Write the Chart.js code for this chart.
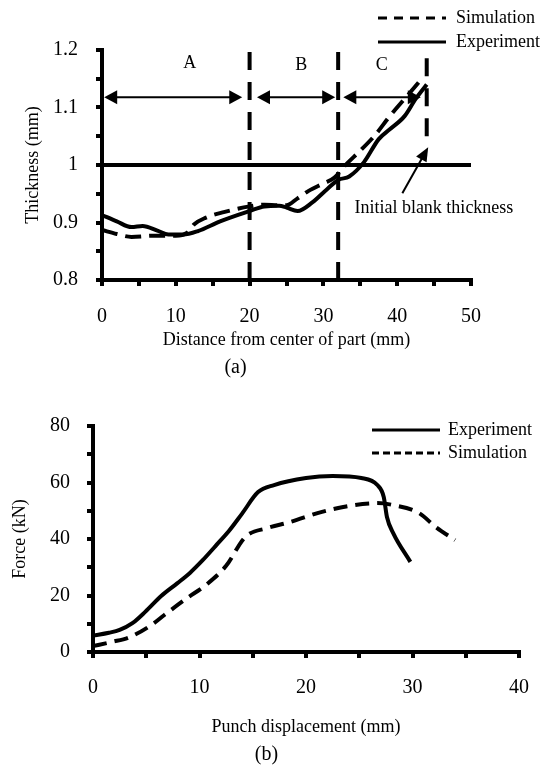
<!DOCTYPE html>
<html><head><meta charset="utf-8">
<script src="https://cdn.jsdelivr.net/npm/chart.js@4/dist/chart.umd.min.js"></script>
<style>
html,body{margin:0;padding:0;background:#fff;}
#wrap{position:relative;width:547px;height:769px;overflow:hidden;background:#fff;}
canvas{position:absolute;left:0;}
#c1{top:0;} #c2{top:392px;}
</style></head><body>
<div id="wrap">
<canvas id="c1" width="547" height="392"></canvas>
<canvas id="c2" width="547" height="377"></canvas>
</div>
<script>
// ================= DATA =================
// (a) Thickness distribution
const expDistance  = [0, 2, 4, 5.5, 7.5, 9, 11, 13, 16, 20, 22, 24, 25, 26.5, 28.5, 30.5, 32, 33.5, 35.5, 37.5, 39, 41, 42.5, 44];
const expThickness = [0.913, 0.902, 0.892, 0.894, 0.886, 0.879, 0.879, 0.885, 0.902, 0.920, 0.928, 0.929, 0.926, 0.920, 0.935, 0.958, 0.974, 0.980, 1.005, 1.045, 1.062, 1.085, 1.115, 1.140];
const simDistance  = [0, 2, 4, 7, 10, 11.5, 12.5, 14, 16.5, 20, 22, 24, 25, 26.5, 28, 30, 31.5, 33, 35, 37, 39, 41, 43];
const simThickness = [0.887, 0.880, 0.875, 0.877, 0.877, 0.882, 0.897, 0.908, 0.918, 0.928, 0.931, 0.930, 0.930, 0.942, 0.955, 0.968, 0.978, 1.000, 1.025, 1.052, 1.085, 1.115, 1.145];
const zoneBoundaryX = [20, 32, 44];
const zoneLabels = ['A', 'B', 'C'];
const blankThickness = 1.0;

// (b) Force vs punch displacement
const expDisplacement = [0, 1.5, 2.5, 3.7, 4.9, 6.4, 7.9, 9.1, 10.3, 11.5, 12.8, 14, 15.5, 17, 20, 22.5, 25.2, 26.7, 27.3, 27.6, 28.2, 29.8];
const expForce        = [5.8, 6.8, 7.8, 10.2, 14.2, 19.8, 24.3, 28, 32.5, 37.5, 43, 49, 56.6, 59.1, 61.6, 62.3, 61.6, 59.1, 54.9, 47.8, 42, 31.9];
const simDisplacement = [0, 1.8, 3.4, 5.5, 6.7, 8.8, 10.6, 12.5, 14.3, 16.4, 18.5, 21.5, 24.5, 26.7, 28.2, 30.6, 32.2, 34];
const simForce        = [2.1, 3.6, 5.2, 9.6, 13.1, 19, 23.7, 30.5, 40.7, 43.9, 46, 49.6, 52, 52.7, 52, 49.2, 44.2, 39.6];

// ================= HELPERS =================
const F = '"Liberation Serif", "Times New Roman", serif';
const pts = (xs, ys) => xs.map((x, i) => ({x: x, y: ys[i]}));

// annotation placement (data units)
const zoneArrowLevel = 1.118;
const zoneSpans = [[0.3, 19.0], [21.0, 31.6], [32.7, 43.2]];
const zoneLabelPos = [[11.9, 1.177], [27, 1.174], [37.9, 1.174]];
const boundaryExtent = [[0.8, 1.2], [0.8, 1.2], [1.05, 1.19]];
const blankNote = {text: 'Initial blank thickness', x: 34.2, y: 0.925, tail: [40.7, 0.951], tip: [44.2, 1.031]};

function head(ctx, tx, ty, ang, len, half) {
  const c = Math.cos(ang), s = Math.sin(ang);
  ctx.beginPath();
  ctx.moveTo(tx, ty);
  ctx.lineTo(tx - len * c + half * s, ty - len * s - half * c);
  ctx.lineTo(tx - len * c - half * s, ty - len * s + half * c);
  ctx.closePath();
  ctx.fill();
}
function arrow(ctx, x1, y1, x2, y2, len, half, both) {
  const a = Math.atan2(y2 - y1, x2 - x1), c = Math.cos(a), s = Math.sin(a);
  ctx.beginPath();
  ctx.moveTo(both ? x1 + len * 0.8 * c : x1, both ? y1 + len * 0.8 * s : y1);
  ctx.lineTo(x2 - len * 0.8 * c, y2 - len * 0.8 * s);
  ctx.stroke();
  head(ctx, x2, y2, a, len, half);
  if (both) head(ctx, x1, y1, a + Math.PI, len, half);
}

function legendPlugin(id, items, x0, x1, textX) {
  return {
    id: id,
    afterDraw(chart) {
      const ctx = chart.ctx;
      ctx.save();
      ctx.strokeStyle = '#000'; ctx.fillStyle = '#000';
      ctx.font = '18px ' + F; ctx.textBaseline = 'middle'; ctx.textAlign = 'left';
      items.forEach(it => {
        const ds = chart.data.datasets[it.index];
        ctx.lineWidth = 3;
        ctx.setLineDash(it.dash);
        ctx.beginPath(); ctx.moveTo(x0, it.y); ctx.lineTo(x1, it.y); ctx.stroke();
        ctx.setLineDash([]);
        ctx.fillText(ds.label, textX, it.y);
      });
      ctx.restore();
    }
  };
}

const annotPlugin = {
  id: 'annotA',
  afterDatasetsDraw(chart) {
    const {ctx, scales: {x, y}} = chart;
    ctx.save();
    ctx.strokeStyle = '#000'; ctx.fillStyle = '#000'; ctx.lineWidth = 2;
    const py = y.getPixelForValue(zoneArrowLevel);
    zoneSpans.forEach(sp => {
      arrow(ctx, x.getPixelForValue(sp[0]), py, x.getPixelForValue(sp[1]), py, 13, 7, true);
    });
    ctx.font = '18px ' + F; ctx.textAlign = 'center'; ctx.textBaseline = 'middle';
    zoneLabels.forEach((lab, i) => {
      ctx.fillText(lab, x.getPixelForValue(zoneLabelPos[i][0]), y.getPixelForValue(zoneLabelPos[i][1]));
    });
    ctx.textAlign = 'left';
    ctx.fillText(blankNote.text, x.getPixelForValue(blankNote.x), y.getPixelForValue(blankNote.y));
    arrow(ctx, x.getPixelForValue(blankNote.tail[0]), y.getPixelForValue(blankNote.tail[1]),
               x.getPixelForValue(blankNote.tip[0]), y.getPixelForValue(blankNote.tip[1]), 14, 6, false);
    ctx.restore();
  }
};

const gridOpts = {display: true, drawOnChartArea: false, drawTicks: true, tickLength: 6, color: '#000', lineWidth: 4};
const borderOpts = {display: true, color: '#000', width: 4};

// ================= CHART (a) =================
const dsA = [
  {label: 'Simulation', data: pts(simDistance, simThickness), borderColor: '#000', borderWidth: 4, borderDash: [16, 8], pointRadius: 0, cubicInterpolationMode: 'monotone', fill: false},
  {label: 'Experiment', data: pts(expDistance, expThickness), borderColor: '#000', borderWidth: 4, pointRadius: 0, cubicInterpolationMode: 'monotone', fill: false},
  {label: 'Initial blank thickness', data: [{x: 0, y: blankThickness}, {x: 50, y: blankThickness}], borderColor: '#000', borderWidth: 4, pointRadius: 0, fill: false}
];
zoneBoundaryX.forEach((bx, i) => {
  dsA.push({label: 'Zone boundary ' + (i + 1), data: [{x: bx, y: boundaryExtent[i][0]}, {x: bx, y: boundaryExtent[i][1]}],
    borderColor: '#000', borderWidth: 4, borderDash: [18, 12], borderCapStyle: 'butt', pointRadius: 0, fill: false});
});

new Chart(document.getElementById('c1'), {
  type: 'line',
  data: {datasets: dsA},
  options: {
    responsive: false, animation: false, devicePixelRatio: 1,
    layout: {padding: {top: 50, right: 76, left: 0, bottom: 0}},
    plugins: {
      legend: {display: false}, tooltip: {enabled: false},
      title: {display: true, position: 'bottom', text: '(a)', color: '#000', font: {family: F, size: 20, weight: 'normal'}, padding: {top: 0, bottom: 12}}
    },
    scales: {
      x: {
        type: 'linear', min: 0, max: 50,
        afterFit(s) { s.height = 76; },
        ticks: {stepSize: 5, autoSkip: false, maxRotation: 0, minRotation: 0, padding: 19, color: '#000', font: {family: F, size: 20},
          callback: v => (Math.round(v) % 10 === 0 ? String(Math.round(v)) : '')},
        grid: gridOpts, border: borderOpts,
        title: {display: true, text: 'Distance from center of part (mm)', color: '#000', font: {family: F, size: 18}, padding: {top: 0, bottom: 5}}
      },
      y: {
        type: 'linear', min: 0.8, max: 1.2,
        afterFit(s) { s.width = 102; },
        ticks: {stepSize: 0.05, autoSkip: false, padding: 18, color: '#000', font: {family: F, size: 20},
          callback: v => { const r = Math.round(v * 100); return r % 10 === 0 ? String(r / 100) : ''; }},
        grid: gridOpts, border: borderOpts,
        title: {display: true, text: 'Thickness (mm)', color: '#000', font: {family: F, size: 18}, padding: {top: 22, bottom: 0}}
      }
    }
  },
  plugins: [annotPlugin, legendPlugin('legA', [{index: 0, y: 18, dash: [9, 7]}, {index: 1, y: 42, dash: []}], 378, 446, 456)]
});

// ================= CHART (b) =================
new Chart(document.getElementById('c2'), {
  type: 'line',
  data: {datasets: [
    {label: 'Experiment', data: pts(expDisplacement, expForce), borderColor: '#000', borderWidth: 4, pointRadius: 0, cubicInterpolationMode: 'monotone', fill: false},
    {label: 'Simulation', data: pts(simDisplacement, simForce), borderColor: '#000', borderWidth: 4, borderDash: [14, 8], pointRadius: 0, cubicInterpolationMode: 'monotone', fill: false}
  ]},
  options: {
    responsive: false, animation: false, devicePixelRatio: 1,
    layout: {padding: {top: 34, right: 14, left: 0, bottom: 0}},
    plugins: {
      legend: {display: false}, tooltip: {enabled: false},
      title: {display: true, position: 'bottom', text: '(b)', color: '#000', font: {family: F, size: 20, weight: 'normal'}, padding: {top: 0, bottom: 2}}
    },
    scales: {
      x: {
        type: 'linear', min: 0, max: 40,
        afterFit(s) { s.height = 91; },
        ticks: {stepSize: 5, autoSkip: false, maxRotation: 0, minRotation: 0, padding: 18, color: '#000', font: {family: F, size: 20},
          callback: v => (Math.round(v) % 10 === 0 ? String(Math.round(v)) : '')},
        grid: gridOpts, border: borderOpts,
        title: {display: true, text: 'Punch displacement (mm)', color: '#000', font: {family: F, size: 18}, padding: {top: 0, bottom: 5}}
      },
      y: {
        type: 'linear', min: 0, max: 80,
        afterFit(s) { s.width = 93; },
        ticks: {stepSize: 10, autoSkip: false, padding: 17, color: '#000', font: {family: F, size: 20},
          callback: v => (Math.round(v) % 20 === 0 ? String(Math.round(v)) : '')},
        grid: gridOpts, border: borderOpts,
        title: {display: true, text: 'Force (kN)', color: '#000', font: {family: F, size: 18}, padding: {top: 9, bottom: 0}}
      }
    }
  },
  plugins: [legendPlugin('legB', [{index: 0, y: 38, dash: []}, {index: 1, y: 61, dash: [7, 4]}], 372, 440, 448)]
});
</script>
</body></html>
